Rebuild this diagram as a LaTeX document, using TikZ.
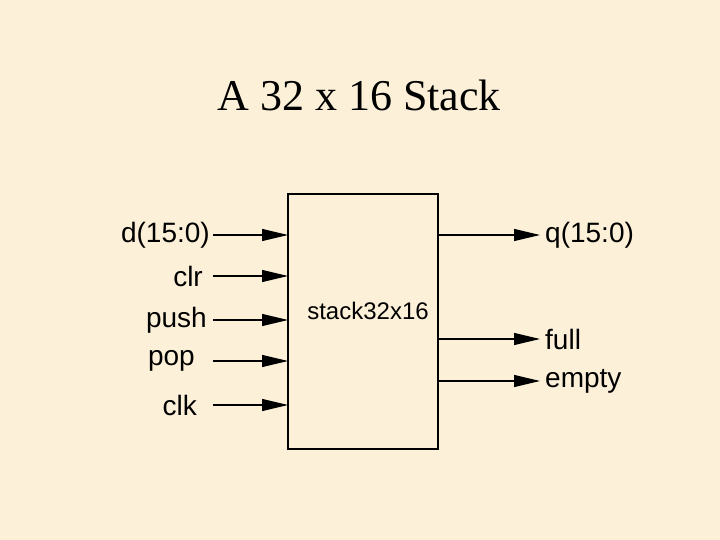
\documentclass[tikz,border=0pt]{standalone}
\usepackage{fontspec}
\setmainfont{Liberation Serif}
\newfontfamily\lab{Liberation Sans}
\usetikzlibrary{arrows.meta}
\definecolor{bg}{HTML}{FCF0D8}
\begin{document}
\begin{tikzpicture}[x=1pt,y=-1pt,
  sig/.style={line width=1.2pt,-{Triangle[length=26pt,width=12pt]}},
  lbl/.style={font=\lab\fontsize{28}{28}\selectfont,inner sep=0pt}]
\fill[bg] (0,0) rectangle (720,540);
\useasboundingbox (0,0) rectangle (720,540);
\node[font=\fontsize{44}{44}\selectfont] (title) at (359,95) {A 32 x 16 Stack};
\draw[line width=1.2pt] (288,194) rectangle (438,449);
\node[lbl,font=\lab\fontsize{24}{24}\selectfont] (name) at (368,311) {stack32x16};
\foreach \n/\t/\y/\r in {d/d(15:0)/235/210,clr/clr/276/203,push/push/320/207,pop/pop/361/195,clk/clk/405/197}{
  \node[lbl,anchor=east] (\n) at (\r,\y) {\t};
  \coordinate (\n s) at (213,\y);
  \coordinate (\n e) at (288,\y);
  \draw[sig] (\n s) -- (\n e);
}
\foreach \n/\t/\y in {q/q(15:0)/235,full/full/339,empty/empty/381}{
  \coordinate (\n s) at (438,\y);
  \coordinate (\n e) at (540,\y);
  \draw[sig] (\n s) -- (\n e);
  \node[lbl,anchor=west] (\n) at (545,\y) {\t};
}
\end{tikzpicture}
\end{document}
